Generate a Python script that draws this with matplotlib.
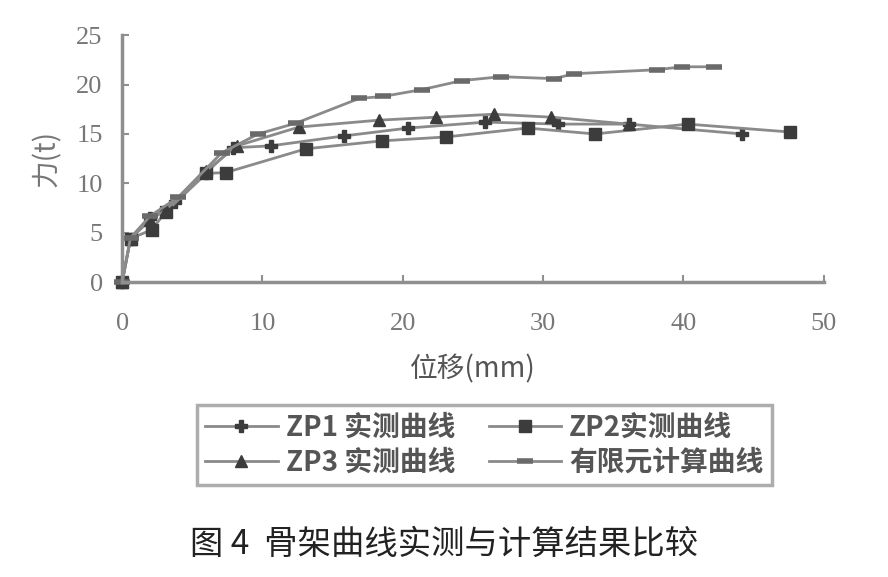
import matplotlib.pyplot as plt

plt.rcParams['font.family'] = ['Liberation Serif', 'Noto Sans CJK SC']

# 数据 (位移 mm, 力 t)
zp1_x = [0, 0.6, 2.0, 3.8, 6.0, 7.9, 10.6, 15.8, 20.4, 25.9, 31.1, 36.1, 44.2]
zp1_y = [0, 4.4, 6.5, 8.1, 11.1, 13.6, 13.8, 14.8, 15.6, 16.2, 16.0, 16.0, 15.0]
zp2_x = [0, 0.6, 2.1, 3.1, 6.0, 7.4, 13.1, 18.5, 23.1, 28.9, 33.7, 40.3, 47.6]
zp2_y = [0, 4.4, 5.3, 7.1, 11.0, 11.1, 13.5, 14.3, 14.7, 15.6, 15.0, 16.0, 15.2]
zp3_x = [0, 0.6, 2.0, 3.1, 6.0, 8.2, 12.6, 18.3, 22.4, 26.5, 30.6, 36.1]
zp3_y = [0, 4.4, 6.3, 7.3, 11.3, 13.8, 15.7, 16.4, 16.7, 17.0, 16.7, 16.0]
fe_x = [0, 0.6, 2.0, 4.0, 7.1, 9.7, 12.4, 16.9, 18.6, 21.4, 24.2, 27.0, 30.8, 32.2, 38.1, 39.9, 42.2]
fe_y = [0, 4.5, 6.7, 8.6, 13.1, 15.0, 16.1, 18.6, 18.8, 19.5, 20.4, 20.8, 20.6, 21.1, 21.5, 21.8, 21.8]

line_c = '#8a8a8a'
mk_c = '#3c3c3c'
ax_c = '#8f8f8f'
cjk = ['Noto Sans CJK SC', 'DejaVu Sans']

fig = plt.figure(figsize=(8.88, 5.77), dpi=100)
ax = fig.add_axes([0.1375, 0.511, 0.79, 0.428])

h1, = ax.plot(zp1_x, zp1_y, color=line_c, lw=2, marker='P', ms=8, mfc=mk_c, mec=mk_c, clip_on=False)
h2, = ax.plot(zp2_x, zp2_y, color=line_c, lw=2, marker='s', ms=8, mfc=mk_c, mec=mk_c, clip_on=False)
h3, = ax.plot(zp3_x, zp3_y, color=line_c, lw=2, marker='^', ms=8, mfc=mk_c, mec=mk_c, clip_on=False)
h4, = ax.plot(fe_x, fe_y, color=line_c, lw=2, marker='_', ms=11, mew=4, mec='#6a6a6a', clip_on=False)

ax.set_xlim(0, 50)
ax.set_ylim(0, 25)
ax.set_xticks([0, 10, 20, 30, 40, 50])
ax.set_yticks([0, 5, 10, 15, 20, 25])
for s in ['top', 'right']:
    ax.spines[s].set_visible(False)
for s in ['left', 'bottom']:
    ax.spines[s].set_color(ax_c)
    ax.spines[s].set_linewidth(2.5)
ax.tick_params(direction='in', length=5, width=1.5, color=ax_c, labelcolor='#777777', labelsize=19)
ax.tick_params(axis='x', pad=22)
ax.tick_params(axis='y', pad=14)

ax.set_xlabel('位移(mm)', fontsize=20, color='#555555', labelpad=14, family=cjk)
ax.set_ylabel('力(t)', fontsize=20, color='#777777', labelpad=10, family=cjk)

# 图例: 先列后行, 所以顺序为 ZP1, ZP3, ZP2, 有限元
leg = fig.legend([h1, h3, h2, h4], ['ZP1 实测曲线', 'ZP3 实测曲线', 'ZP2实测曲线', '有限元计算曲线'],
                 loc='upper left', bbox_to_anchor=(197 / 888, 1 - 405 / 577), ncol=2,
                 borderaxespad=0,
                 prop={'family': cjk, 'size': 20, 'weight': 'bold'},
                 frameon=True, fancybox=False, edgecolor='#999999',
                 handlelength=2.6, columnspacing=1.2, labelspacing=0.25, borderpad=0.3,
                 handletextpad=0.3)
leg.get_frame().set_linewidth(2.5)
for t in leg.get_texts():
    t.set_color('#555555')

fig.text(0.5, 0.04, '图 4  骨架曲线实测与计算结果比较', ha='center', fontsize=24,
         color='#222222', family=cjk)

fig.savefig('out.png', dpi=100)
